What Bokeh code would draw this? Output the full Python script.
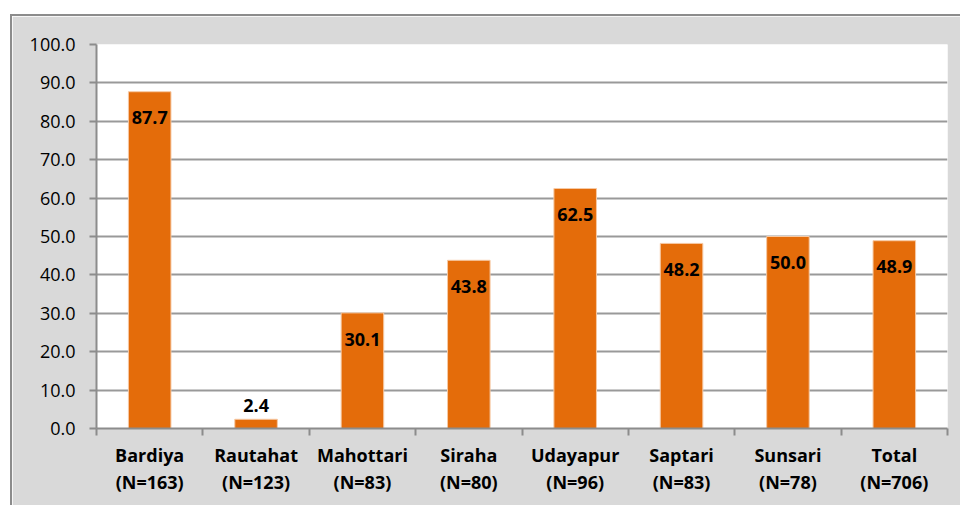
from bokeh.plotting import figure
from bokeh.models import ColumnDataSource, FixedTicker, Range1d, Spacer
from bokeh.layouts import column, row
from bokeh.core.properties import value
from bokeh.embed import file_html
from bokeh.resources import INLINE

districts = ["Bardiya", "Rautahat", "Mahottari", "Siraha", "Udayapur", "Saptari", "Sunsari", "Total"]
sample_n = [163, 123, 83, 80, 96, 83, 78, 706]
percent = [87.7, 2.4, 30.1, 43.8, 62.5, 48.2, 50.0, 48.9]
y_ticks = [0, 10, 20, 30, 40, 50, 60, 70, 80, 90, 100]

FONT = "Open Sans"
n = len(districts)
centers = [i + 0.5 for i in range(n)]
label_y = [v - 6.8 if v >= 10 else v + 3.6 for v in percent]
labels = ["%.1f" % v for v in percent]

src = ColumnDataSource(dict(x=centers, top=percent, ly=label_y, txt=labels))

FW, FH = 851, 384
BL, BT, BR, BB = 84, 28, 13, 77

p = figure(frame_width=FW, frame_height=FH, output_backend="svg", toolbar_location=None,
           x_range=Range1d(0, n), y_range=Range1d(0, 100))
p.min_border_left = BL
p.min_border_top = BT
p.min_border_right = BR
p.min_border_bottom = BB
p.border_fill_color = "#d9d9d9"
p.background_fill_color = "white"
p.outline_line_color = None

p.vbar(x="x", top="top", width=0.4, bottom=0, source=src,
       fill_color="#E46C0A", line_color="#f6c9a4", line_width=1)
p.text(x="x", y="ly", text="txt", source=src, text_align="center", text_baseline="middle",
       text_font=value(FONT), text_font_style="bold", text_font_size="18px", text_color="black")

# y axis
p.yaxis.ticker = FixedTicker(ticks=y_ticks)
p.yaxis.major_label_overrides = {t: "%.1f" % t for t in y_ticks}
p.yaxis.major_label_text_font = FONT
p.yaxis.major_label_text_font_size = "18px"
p.yaxis.major_label_text_color = "black"
p.yaxis.major_tick_out = 7
p.yaxis.major_tick_in = 0
p.yaxis.minor_tick_out = 0
p.yaxis.minor_tick_in = 0
p.yaxis.major_label_standoff = 14
p.yaxis.axis_line_color = "#8c8c8c"
p.yaxis.axis_line_width = 2
p.yaxis.major_tick_line_color = "#8c8c8c"
p.yaxis.major_tick_line_width = 2

# x axis: labels at centres, ticks at category boundaries
p.xaxis.ticker = FixedTicker(ticks=centers, minor_ticks=list(range(n + 1)))
p.xaxis.major_label_overrides = {c: "%s\n(N=%d)" % (d, k) for c, d, k in zip(centers, districts, sample_n)}
p.xaxis.major_label_text_font = FONT
p.xaxis.major_label_text_font_style = "bold"
p.xaxis.major_label_text_font_size = "18px"
p.xaxis.major_label_text_color = "black"
p.xaxis.major_label_text_line_height = 1.14
p.xaxis.major_tick_out = 0
p.xaxis.major_tick_in = 0
p.xaxis.minor_tick_out = 7
p.xaxis.minor_tick_in = 0
p.xaxis.minor_tick_line_color = "#8c8c8c"
p.xaxis.minor_tick_line_width = 2
p.xaxis.major_label_standoff = 7
p.xaxis.axis_line_color = "#8c8c8c"
p.xaxis.axis_line_width = 2

p.xgrid.grid_line_color = None
p.ygrid.ticker = FixedTicker(ticks=y_ticks)
p.ygrid.grid_line_color = "#999999"
p.ygrid.grid_line_width = 2

W = BL + FW + BR
H = BT + FH + BB
edge = {"background-color": "#8c8c8c"}
top_edge = Spacer(width=W + 2, height=2, styles=edge)
left_edge = Spacer(width=2, height=H, styles=edge)
layout = column(Spacer(width=W + 12, height=14),
                row(Spacer(width=10, height=H + 2), column(top_edge, row(left_edge, p))))

open("out.html", "w").write(file_html(layout, INLINE))
